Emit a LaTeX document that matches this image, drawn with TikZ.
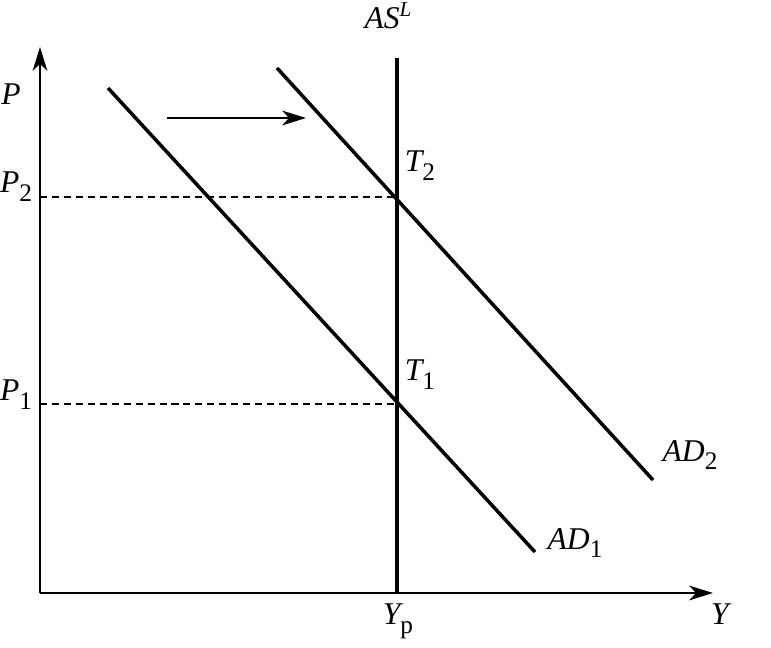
\documentclass[tikz,border=0pt]{standalone}
\usepackage{fontspec}
\setmainfont{Liberation Serif}
\usetikzlibrary{arrows.meta}

\newcommand{\lowidx}[1]{\raisebox{-0.6ex}{\fontsize{18}{20}\selectfont #1}}
\newcommand{\highidx}[1]{\raisebox{0.8ex}{\fontsize{15}{17}\selectfont\itshape #1}}

\begin{document}
\begin{tikzpicture}[
    x=0.025cm, y=-0.025cm,
    >={Stealth[length=17pt, width=10.5pt, inset=5pt]},
    axis/.style={line width=1.4pt, ->},
    curve/.style={line width=2.5pt},
    guide/.style={line width=0.9pt, dash pattern=on 5pt off 3.5pt},
    shiftarr/.style={line width=1.4pt, ->},
    lbl/.style={font=\fontsize{22.5}{26}\selectfont\itshape, inner sep=0pt},
]
\useasboundingbox (0,0) rectangle (771,648);

% ── axes ──
\coordinate (O) at (40,593);
\coordinate (ytop) at (40,47);
\coordinate (xend) at (713,593);
\draw[axis] (O) -- (ytop);
\draw[axis] (O) -- (xend);

% ── long-run supply ──
\coordinate (astop) at (397,58);
\coordinate (Yp) at (397,593);
\draw[curve] (Yp) -- (astop);

% ── demand curves ──
\coordinate (ad1a) at (108,88);
\coordinate (ad1b) at (535,552);
\coordinate (ad2a) at (277,68);
\coordinate (ad2b) at (653,480);
\draw[curve] (ad1a) -- (ad1b);
\draw[curve] (ad2a) -- (ad2b);

% ── equilibria and price levels ──
\coordinate (T1) at (397,404);
\coordinate (T2) at (397,197);
\coordinate (P1) at (40,404);
\coordinate (P2) at (40,197);
\draw[guide] (P1) -- (T1);
\draw[guide] (P2) -- (T2);

% ── shift arrow ──
\coordinate (sa) at (167,118);
\coordinate (sb) at (306,118);
\draw[shiftarr] (sa) -- (sb);

% ── labels ──
\node[lbl] (lP)  at (11,94)   {P};
\node[lbl] (lP2) at (16,187)  {P\lowidx{\upshape 2}};
\node[lbl] (lP1) at (16,395)  {P\lowidx{\upshape 1}};
\node[lbl] (lAS) at (388,16)  {AS\highidx{L}};
\node[lbl] (lT2) at (420,166) {T\lowidx{\upshape 2}};
\node[lbl] (lT1) at (420,375) {T\lowidx{\upshape 1}};
\node[lbl] (lAD2) at (690,455) {AD\lowidx{\upshape 2}};
\node[lbl] (lAD1) at (575,543) {AD\lowidx{\upshape 1}};
\node[lbl] (lYp) at (398,621) {Y\lowidx{\upshape p}};
\node[lbl] (lY)  at (720,614) {Y};
\end{tikzpicture}
\end{document}
